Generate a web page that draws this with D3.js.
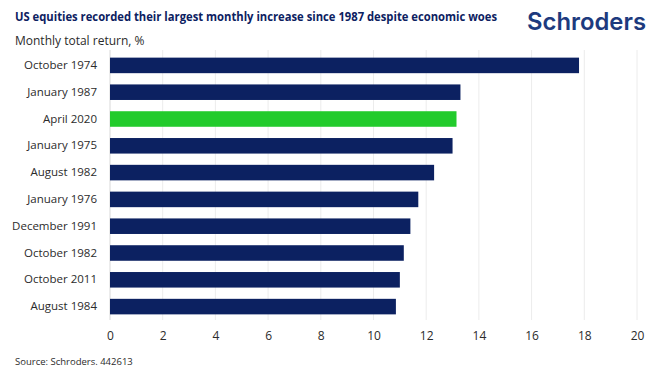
<!DOCTYPE html>
<html><head><meta charset="utf-8">
<script src="https://cdn.jsdelivr.net/npm/d3@7"></script>
<style>body{margin:0;background:#fff}svg{display:block}</style>
</head><body>
<script>
const categories = ["October 1974","January 1987","April 2020","January 1975","August 1982","January 1976","December 1991","October 1982","October 2011","August 1984"];
const values = [17.8, 13.3, 13.15, 13.0, 12.3, 11.7, 11.4, 11.15, 11.0, 10.85];
const highlight = ["April 2020"];
const xTicks = [0,2,4,6,8,10,12,14,16,18,20];
const title = "US equities recorded their largest monthly increase since 1987 despite economic woes";
const subtitle = "Monthly total return, %";
const source = "Source: Schroders. 442613";

const W = 659, H = 374;
const svg = d3.select("body").append("svg").attr("width", W).attr("height", H);
const font = "'Open Sans', 'Noto Sans', sans-serif";

const x = d3.scaleLinear().domain([0, 20]).range([110, 637]);
const y = d3.scaleBand().domain(categories).range([52, 320]).paddingInner(0.42).paddingOuter(0.21);

// gridlines
svg.append("g").selectAll("line").data(xTicks).join("line")
  .attr("x1", d => x(d)).attr("x2", d => x(d))
  .attr("y1", 50).attr("y2", 320)
  .attr("stroke", d => d === 0 ? "#d8d8d8" : "#ececec").attr("stroke-width", 1);

// bars
svg.append("g").selectAll("rect").data(categories).join("rect")
  .attr("x", x(0)).attr("y", d => y(d))
  .attr("width", (d, i) => x(values[i]) - x(0))
  .attr("height", y.bandwidth())
  .attr("fill", d => highlight.includes(d) ? "#22cb2c" : "#0c2161");

// y axis labels
const yAxis = svg.append("g").attr("transform", `translate(${x(0)},0)`)
  .call(d3.axisLeft(y).tickSize(0).tickPadding(13));
yAxis.select(".domain").remove();
yAxis.selectAll("text").attr("font-family", font).attr("font-size", 11.5).attr("fill", "#2b2b2b");

// x axis
const xAxis = svg.append("g").attr("transform", `translate(0,323.5)`)
  .call(d3.axisBottom(x).tickValues(xTicks).tickSize(0).tickPadding(8).tickFormat(d3.format("d")));
xAxis.select(".domain").remove();
xAxis.selectAll("text").attr("font-family", font).attr("font-size", 12).attr("fill", "#2b2b2b");

// title
svg.append("text").attr("x", 15).attr("y", 20.5).text(title)
  .attr("font-family", font).attr("font-weight", 700).attr("font-size", 11.5)
  .attr("fill", "#0c2161").attr("textLength", 482).attr("lengthAdjust", "spacingAndGlyphs");
svg.append("text").attr("x", 15).attr("y", 45).text(subtitle)
  .attr("font-family", font).attr("font-size", 12).attr("fill", "#2b2b2b");
svg.append("text").attr("x", 15).attr("y", 365).text(source)
  .attr("font-family", font).attr("font-size", 9.5).attr("fill", "#2b2b2b");

// logo
svg.append("text").attr("x", 527).attr("y", 30).text("Schroders")
  .attr("font-family", "Inter, 'Open Sans', sans-serif").attr("font-weight", 600).attr("font-size", 24)
  .attr("fill", "#1d3a7e").attr("textLength", 119).attr("lengthAdjust", "spacingAndGlyphs");
</script>
</body></html>
